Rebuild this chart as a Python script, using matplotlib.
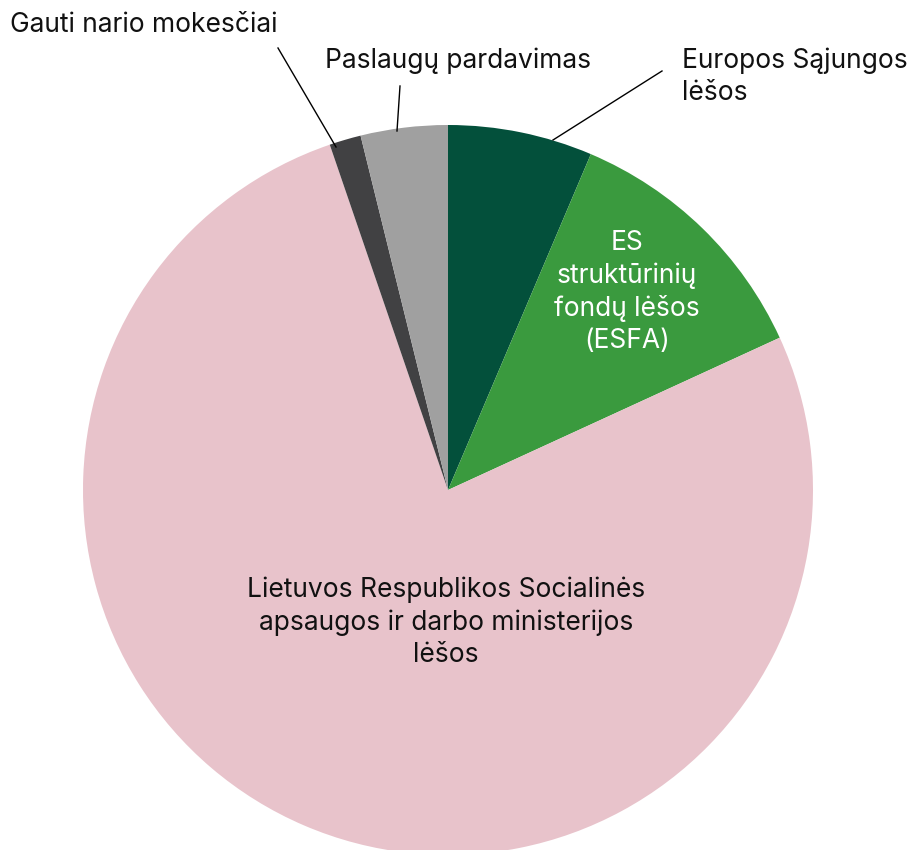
import matplotlib
matplotlib.use("Agg")
import matplotlib.pyplot as plt

labels = [
    "Europos Sąjungos\nlėšos",
    "ES\nstruktūrinių\nfondų lėšos\n(ESFA)",
    "Lietuvos Respublikos Socialinės\napsaugos ir darbo ministerijos\nlėšos",
    "Gauti nario mokesčiai",
    "Paslaugų pardavimas",
]
shares = [6.4, 11.75, 76.6, 1.4, 3.85]
colors = ["#03503B", "#3A9A3E", "#E8C3CB", "#414143", "#A0A0A0"]

plt.rcParams["font.family"] = ["Inter", "DejaVu Sans"]

W, H = 911, 850
fig = plt.figure(figsize=(W / 100, H / 100), dpi=100)
ax = fig.add_axes([0, 0, 1, 1])
ax.axis("off")

cx, cy, r = 448, H - 490, 365
ax.pie(shares, colors=colors, startangle=90, counterclock=False,
       center=(cx, cy), radius=r, wedgeprops=dict(linewidth=0))
ax.set_xlim(0, W)
ax.set_ylim(0, H)
ax.set_aspect("equal")

fs = 19
ls = 1.3
# labels inside slices
ax.text(627, H - 292, labels[1], color="white", fontsize=fs, ha="center",
        va="center", linespacing=ls)
ax.text(446, H - 622, labels[2], color="#111111", fontsize=fs, ha="center",
        va="center", linespacing=ls)

# outside labels with leader lines
ax.plot([553, 662], [H - 140, H - 71], color="black", lw=1)
ax.text(682, H - 77, labels[0], color="#111111", fontsize=fs, ha="left",
        va="center", linespacing=ls)

ax.plot([397, 400], [H - 131, H - 86], color="black", lw=1)
ax.text(325, H - 61, labels[4], color="#111111", fontsize=fs, ha="left",
        va="center")

ax.plot([336, 278], [H - 147, H - 48], color="black", lw=1)
ax.text(10, H - 25, labels[3], color="#111111", fontsize=fs, ha="left",
        va="center")

fig.savefig("out.png", dpi=100)
